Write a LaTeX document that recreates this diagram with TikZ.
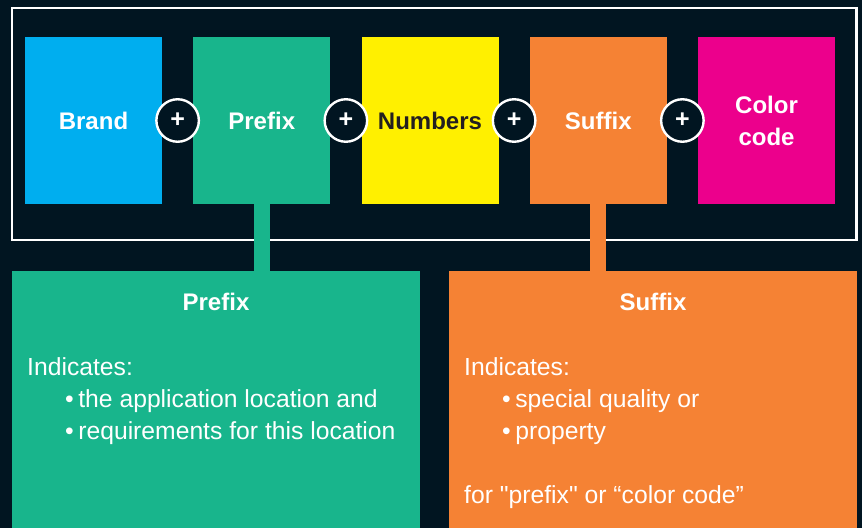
\documentclass[tikz,border=0pt]{standalone}
\usepackage{fontspec}
\setmainfont{Liberation Sans}
\usetikzlibrary{positioning,calc}
\definecolor{bgdark}{RGB}{1,21,33}
\definecolor{brandblue}{RGB}{0,174,239}
\definecolor{prefixgreen}{RGB}{24,181,140}
\definecolor{numyellow}{RGB}{255,240,0}
\definecolor{suffixorange}{RGB}{245,130,52}
\definecolor{codepink}{RGB}{236,0,140}
\definecolor{numtext}{RGB}{35,31,32}
\tikzstyle{part}     = [rectangle,
                        minimum width=137bp,
                        minimum height=167bp,
                        inner sep=0pt,
                        outer sep=0pt,
                        text=white,
                        align=center,
                        font=\bfseries\fontsize{24bp}{32bp}\selectfont]
\tikzstyle{plus}     = [circle,
                        draw=white,
                        line width=2.4bp,
                        fill=bgdark,
                        minimum size=42.5bp,
                        inner sep=0pt,
                        text=white,
                        font=\bfseries\fontsize{25bp}{25bp}\selectfont]
\tikzstyle{infobox}  = [rectangle,
                        anchor=north west,
                        minimum width=408bp,
                        minimum height=257bp,
                        inner sep=0pt,
                        outer sep=0pt]
\tikzstyle{heading}  = [anchor=base,
                        inner sep=0pt,
                        text=white,
                        font=\bfseries\fontsize{24bp}{32bp}\selectfont]
\tikzstyle{infotext} = [anchor=north west,
                        inner sep=0pt,
                        text=white,
                        align=left,
                        font=\fontsize{24.7bp}{32bp}\selectfont]
\tikzstyle{stem}     = [line width=16bp]
\tikzstyle{frame}    = [draw=white, line width=2.3bp]
\newcommand{\bulletline}[1]{\hspace*{38bp}\textbullet\hspace{4.5bp}#1}

\begin{document}
\begin{tikzpicture}[x=1bp, y=1bp]

  % Background
  \useasboundingbox (0,0) rectangle (862,-528);
  \fill[bgdark] (0,0) rectangle (862,-528);
  \draw[frame] (12,-8) rectangle (856.5,-240);

  % Nodes
  \node[part, fill=brandblue]                    (brand)     at (93.5,-120.5) {Brand};
  \node[part, fill=prefixgreen, right=31.25bp of brand]   (prefix)    {Prefix};
  \node[part, fill=numyellow, text=numtext, right=31.25bp of prefix] (numbers) {Numbers};
  \node[part, fill=suffixorange, right=31.25bp of numbers] (suffix)   {Suffix};
  \node[part, fill=codepink, right=31.25bp of suffix]     (colorcode) {Color\\code};

  \node[plus] (plus1) at ($(brand.east)!0.5!(prefix.west)$)      {+};
  \node[plus] (plus2) at ($(prefix.east)!0.5!(numbers.west)$)    {+};
  \node[plus] (plus3) at ($(numbers.east)!0.5!(suffix.west)$)    {+};
  \node[plus] (plus4) at ($(suffix.east)!0.5!(colorcode.west)$)  {+};

  \node[infobox, fill=prefixgreen]  (prefixinfo) at (12,-271)  {};
  \node[infobox, fill=suffixorange] (suffixinfo) at (449,-271) {};

  \node[heading] (prefixhead) at ([yshift=-39.7bp]prefixinfo.north) {Prefix};
  \node[heading] (suffixhead) at ([yshift=-39.7bp]suffixinfo.north) {Suffix};

  \node[infotext] (prefixtext) at ([xshift=15bp, yshift=-86.5bp]prefixinfo.north west)
    {Indicates:\\
     \bulletline{the application location and}\\
     \bulletline{requirements for this location}};
  \node[infotext] (suffixtext) at ([xshift=15bp, yshift=-86.5bp]suffixinfo.north west)
    {Indicates:\\
     \bulletline{special quality or}\\
     \bulletline{property}\\[32bp]
     for \textquotedbl prefix\textquotedbl{} or “color code”};

  % Edges
  \draw[stem, prefixgreen]  (prefix.south) -- (prefix.south |- prefixinfo.north);
  \draw[stem, suffixorange] (suffix.south) -- (suffix.south |- suffixinfo.north);

\end{tikzpicture}
\end{document}
